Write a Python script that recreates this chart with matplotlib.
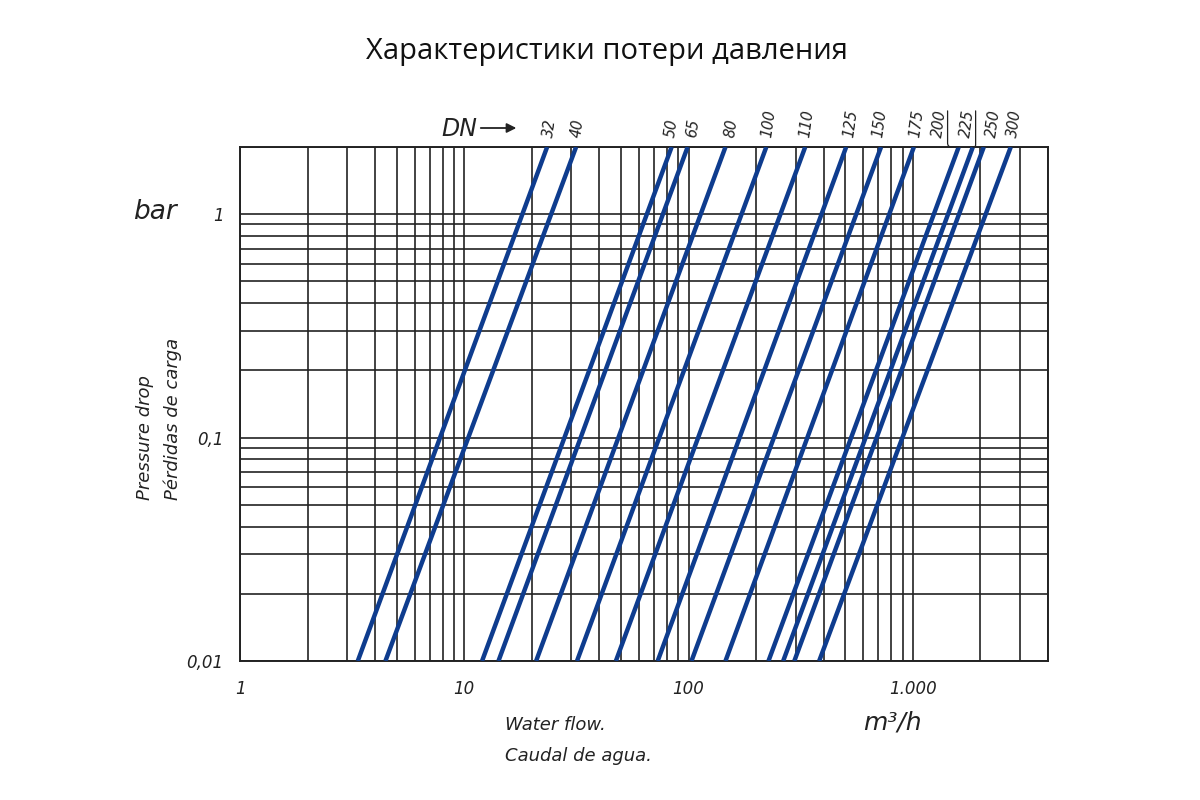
import matplotlib.pyplot as plt
from matplotlib.ticker import FixedLocator, NullFormatter, LogLocator

# Nominal diameters (DN) and flow (m3/h) read at the two ends of each line.
dn_labels = ["32", "40", "50", "65", "80", "100", "110", "125", "150",
             "175", "200", "225", "250", "300"]
flow_at_min = [3.35, 4.45, 12.0, 14.2, 20.9, 31.8, 47.4, 72.8, 103,
               146, 227, 264, 296, 382]       # at 0.01 bar
flow_at_max = [23.4, 31.5, 84, 99, 146, 222, 331, 504, 721,
               1010, 1600, 1850, 2070, 2730]  # at 2 bar
dp_range = [0.01, 2.0]

x_ticks = [1, 10, 100, 1000]
x_tick_labels = ["1", "10", "100", "1.000"]
y_ticks = [0.01, 0.1, 1]
y_tick_labels = ["0,01", "0,1", "1"]

LINE_COLOR = "#0e3c8e"
TEXT_COLOR = "#222222"
plt.rcParams["font.family"] = ["DejaVu Sans"]

# horizontal nudge (points) of each DN label from its line's top end
label_dx = [2, 1, 0, 4, 4, 2, 1, 3, -1, 2, -14, -4, 7, 3]

fig = plt.figure(figsize=(12, 8), dpi=100)
ax = fig.add_axes([0.2, 0.17375, 0.6733, 0.6425])

for q0, q1 in zip(flow_at_min, flow_at_max):
    ax.plot([q0, q1], dp_range, color=LINE_COLOR, lw=3.2,
            solid_capstyle="butt", zorder=3)

ax.set_xscale("log")
ax.set_yscale("log")
ax.set_xlim(1, 4000)
ax.set_ylim(0.01, 2)

# Grid: every 1..9 subdivision of each decade.
ax.xaxis.set_minor_locator(LogLocator(base=10, subs=range(2, 10), numticks=20))
ax.yaxis.set_minor_locator(LogLocator(base=10, subs=range(2, 10), numticks=20))
ax.xaxis.set_minor_formatter(NullFormatter())
ax.yaxis.set_minor_formatter(NullFormatter())
ax.grid(which="both", color=TEXT_COLOR, lw=1.2, zorder=1)

ax.xaxis.set_major_locator(FixedLocator(x_ticks))
ax.set_xticklabels(x_tick_labels, fontstyle="italic", fontsize=12, color=TEXT_COLOR)
ax.yaxis.set_major_locator(FixedLocator(y_ticks))
ax.set_yticklabels(y_tick_labels, fontstyle="italic", fontsize=12, color=TEXT_COLOR)
ax.tick_params(which="both", length=0)
ax.tick_params(axis="x", pad=14)
ax.tick_params(axis="y", pad=12)
for s in ax.spines.values():
    s.set_color(TEXT_COLOR)
    s.set_linewidth(1.4)

# DN labels above each line's top end.
for lab, q1, dx in zip(dn_labels, flow_at_max, label_dx):
    ax.annotate(lab, xy=(q1, dp_range[1]), xytext=(dx, 6),
                textcoords="offset points", rotation=82,
                ha="center", va="bottom", fontsize=10.5,
                fontstyle="italic", color=TEXT_COLOR, annotation_clip=False)

# leader lines for the crowded 200 / 225 labels
ax.annotate("", xy=(flow_at_max[10], dp_range[1]), xytext=(-8, 26),
            textcoords="offset points", annotation_clip=False,
            arrowprops=dict(arrowstyle="-", color=TEXT_COLOR, lw=0.9,
                            shrinkA=0, shrinkB=0,
                            connectionstyle="angle,angleA=-90,angleB=180,rad=4"))
ax.annotate("", xy=(flow_at_max[11], dp_range[1]), xytext=(2, 26),
            textcoords="offset points", annotation_clip=False,
            arrowprops=dict(arrowstyle="-", color=TEXT_COLOR, lw=0.9,
                            shrinkA=0, shrinkB=0,
                            connectionstyle="angle,angleA=-90,angleB=180,rad=2"))

ax.annotate("", xy=(0.342, 1.0 + 19 / 514), xytext=(0.298, 1.0 + 19 / 514),
            xycoords="axes fraction",
            arrowprops=dict(arrowstyle="-|>", color=TEXT_COLOR, lw=1.3,
                            mutation_scale=14, shrinkA=0, shrinkB=0),
            annotation_clip=False)
fig.text(0.383, 0.839, "DN", fontsize=17, fontstyle="italic",
         ha="center", va="center", color=TEXT_COLOR)

fig.text(0.506, 0.935, "Характеристики потери давления", fontsize=21,
         ha="center", va="center", color="#111",
         family=["Open Sans", "DejaVu Sans"])

fig.text(0.129, 0.735, "bar", fontsize=19, fontstyle="italic",
         ha="center", va="center", color=TEXT_COLOR)
fig.text(0.121, 0.375, "Pressure drop", fontsize=13, fontstyle="italic",
         rotation=90, ha="center", va="bottom", color=TEXT_COLOR)
fig.text(0.144, 0.375, "Pérdidas de carga", fontsize=13, fontstyle="italic",
         rotation=90, ha="center", va="bottom", color=TEXT_COLOR)

fig.text(0.421, 0.094, "Water flow.", fontsize=13, fontstyle="italic",
         ha="left", va="center", color=TEXT_COLOR)
fig.text(0.421, 0.055, "Caudal de agua.", fontsize=13, fontstyle="italic",
         ha="left", va="center", color=TEXT_COLOR)
fig.text(0.744, 0.097, "m³/h", fontsize=18, fontstyle="italic",
         ha="center", va="center", color=TEXT_COLOR)

fig.savefig("out.png", dpi=100, facecolor="white")
